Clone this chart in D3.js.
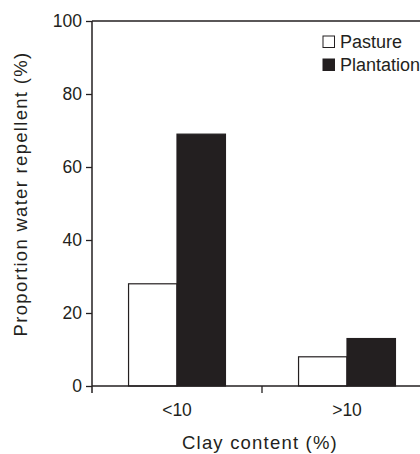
<!DOCTYPE html>
<html>
<head>
<meta charset="utf-8">
<script src="https://cdn.jsdelivr.net/npm/d3@7"></script>
<style>
  body { margin: 0; background: #fff; }
  text { font-family: "Liberation Sans", Arial, sans-serif; fill: #231f20; }
</style>
</head>
<body>
<div id="chart"></div>
<script>
// data
const categories = ["<10", ">10"];
const seriesNames = ["Pasture", "Plantation"];
const pasture = [28, 8];
const plantation = [69, 13];
const yTicks = [0, 20, 40, 60, 80, 100];

const W = 420, H = 454;
const margin = {top: 21, left: 92, bottom: 68};
const plotW = 340;           // runs past the right edge, as in the original
const plotH = H - margin.top - margin.bottom;

const ink = "#231f20";

const svg = d3.select("#chart").append("svg")
    .attr("width", W)
    .attr("height", H);

const g = svg.append("g")
    .attr("transform", "translate(" + margin.left + "," + margin.top + ")");

// scales
const x = d3.scaleBand()
    .domain(categories)
    .range([0, plotW]);

const xInner = d3.scaleBand()
    .domain(seriesNames)
    .range([0, x.bandwidth() * 0.57]);

const y = d3.scaleLinear()
    .domain([0, 100])
    .range([plotH, 0]);

const rows = categories.map((c, i) => ({
    cat: c,
    values: [
        {name: "Pasture", value: pasture[i]},
        {name: "Plantation", value: plantation[i]}
    ]
}));

// bars
const groups = g.selectAll(".grp")
    .data(rows)
    .enter().append("g")
    .attr("class", "grp")
    .attr("transform", d => "translate(" + (x(d.cat) + (x.bandwidth() - xInner.range()[1]) / 2) + ",0)");

groups.selectAll("rect")
    .data(d => d.values)
    .enter().append("rect")
    .attr("x", d => xInner(d.name))
    .attr("y", d => y(d.value))
    .attr("width", xInner.bandwidth())
    .attr("height", d => plotH - y(d.value))
    .attr("fill", d => d.name === "Pasture" ? "#fff" : ink)
    .attr("stroke", ink)
    .attr("stroke-width", 1.2);

// top frame line
g.append("line")
    .attr("x1", 0).attr("x2", plotW)
    .attr("y1", 0).attr("y2", 0)
    .attr("stroke", ink)
    .attr("stroke-width", 1.3);

// y axis
const yAxis = d3.axisLeft(y)
    .tickValues(yTicks)
    .tickSize(6)
    .tickPadding(4);

const yg = g.append("g").call(yAxis);
yg.select(".domain").attr("stroke", ink).attr("stroke-width", 1.5)
    .attr("d", "M0," + (plotH + 7) + "V0");
yg.selectAll(".tick line").attr("stroke", ink).attr("stroke-width", 1.3);
yg.selectAll(".tick text")
    .style("font-size", "17.5px")
    .style("font-family", "'Liberation Sans', Arial, sans-serif")
    .attr("fill", ink);

// x axis: ticks sit between the categories
const xg = g.append("g")
    .attr("transform", "translate(0," + plotH + ")");
xg.append("line")
    .attr("x1", 0).attr("x2", plotW)
    .attr("stroke", ink)
    .attr("stroke-width", 1.5);
xg.selectAll(".sep")
    .data(categories.slice(1))
    .enter().append("line")
    .attr("x1", d => x(d)).attr("x2", d => x(d))
    .attr("y1", 0).attr("y2", 7)
    .attr("stroke", ink)
    .attr("stroke-width", 1.3);
xg.selectAll(".lbl")
    .data(categories)
    .enter().append("text")
    .attr("x", d => x(d) + x.bandwidth() / 2)
    .attr("y", 30)
    .attr("text-anchor", "middle")
    .style("font-size", "17.5px")
    .text(d => d);

// axis titles
g.append("text")
    .attr("x", 168)
    .attr("y", plotH + 63)
    .attr("text-anchor", "middle")
    .style("font-size", "18.5px")
    .style("letter-spacing", "1.2px")
    .text("Clay content (%)");

g.append("text")
    .attr("transform", "rotate(-90)")
    .attr("x", -173)
    .attr("y", -65)
    .attr("text-anchor", "middle")
    .style("font-size", "18.5px")
    .style("letter-spacing", "1.3px")
    .text("Proportion water repellent (%)");

// legend
const legend = svg.append("g")
    .attr("transform", "translate(323,36)");

const items = legend.selectAll(".item")
    .data(seriesNames)
    .enter().append("g")
    .attr("transform", (d, i) => "translate(0," + (i * 23) + ")");

items.append("rect")
    .attr("width", 11.5)
    .attr("height", 11.5)
    .attr("fill", d => d === "Pasture" ? "#fff" : ink)
    .attr("stroke", ink)
    .attr("stroke-width", 1);

items.append("text")
    .attr("x", 17)
    .attr("y", 11.5)
    .style("font-size", "18px")
    .text(d => d);
</script>
</body>
</html>
